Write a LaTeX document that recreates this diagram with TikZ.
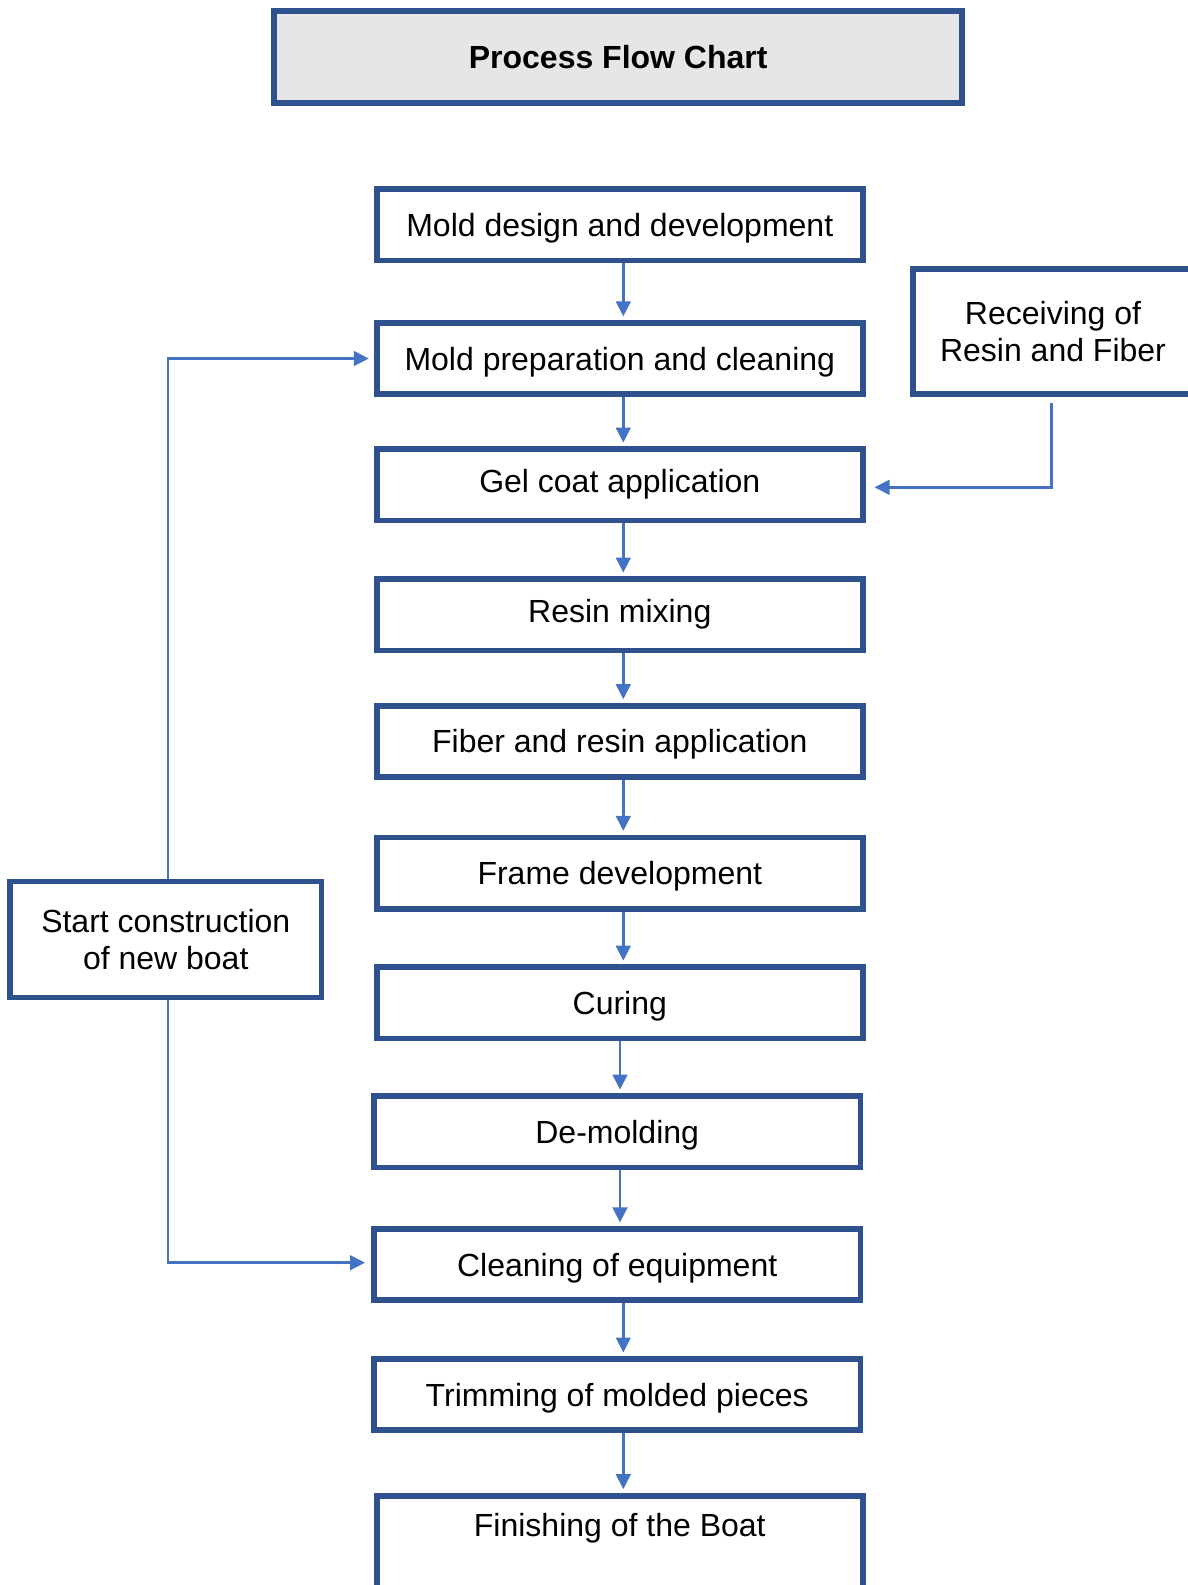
\documentclass[tikz,border=0pt]{standalone}
\usepackage{fontspec}
\setmainfont{Liberation Sans}
\usetikzlibrary{arrows.meta}
\definecolor{boxblue}{HTML}{2F528F}
\definecolor{arrowblue}{HTML}{4472C4}
\definecolor{titlegray}{HTML}{E7E6E6}
\pgfdeclarelayer{bg}
\pgfsetlayers{bg,main}
\tikzset{
  basefont/.style={font=\fontsize{16}{18.4}\selectfont},
  stepbox/.style={basefont, draw=boxblue, line width=2.85pt, fill=white,
    minimum width=243.15pt, minimum height=35.65pt, inner sep=0pt,
    text height=11.5pt, text depth=0pt},
  sidebox/.style={basefont, draw=boxblue, line width=2.85pt, fill=white,
    inner sep=0pt, align=center},
  titlebox/.style={draw=boxblue, line width=3pt, fill=titlegray,
    minimum width=344.15pt, minimum height=45.85pt, inner sep=0pt,
    font=\fontsize{16}{18.4}\selectfont\bfseries, text height=11.5pt, text depth=0pt},
  conn/.style={draw=arrowblue, line width=1.35pt,
    -{Triangle[length=7.5pt,width=7.3pt]}, shorten >=1.8pt},
}
\begin{document}
\begin{tikzpicture}[x=0.5pt,y=-0.5pt]
\useasboundingbox (0,0) rectangle (1188,1585);

\node[titlebox] (title) at (618.2,57.2) {Process Flow Chart};

\node[stepbox] (b1) at (619.8,224.7) {Mold design and development};
\node[stepbox] (b2) at (619.8,358.5) {Mold preparation and cleaning};
\node[stepbox, text depth=4pt] (b3) at (619.8,484.7) {Gel coat application};
\node[stepbox, text depth=4pt] (b4) at (619.8,614.7) {Resin mixing};
\node[stepbox] (b5) at (619.8,741.3) {Fiber and resin application};
\node[stepbox] (b6) at (619.8,873.0) {Frame development};
\node[stepbox] (b7) at (619.8,1002.8) {Curing};
\node[stepbox] (b8) at (617.2,1131.7) {De-molding};
\node[stepbox] (b9) at (617.2,1264.5) {Cleaning of equipment};
\node[stepbox] (b10) at (617.2,1394.6) {Trimming of molded pieces};
\node[stepbox, anchor=north, minimum height=0pt, text height=11.7pt,
      text depth=70pt, inner ysep=8.9pt] (b11) at (619.8,1492.8) {Finishing of the Boat};

\node[sidebox, minimum width=140pt, minimum height=62.5pt] (recv) at (1053,331.5)
  {Receiving of\\Resin and Fiber};
\node[sidebox, minimum width=155.75pt, minimum height=58pt] (start) at (165.75,939.5)
  {Start construction\\of new boat};

\coordinate (axA) at (623.3,0);
\coordinate (axB) at (620,0);
\coordinate (lx) at (168,0);
\coordinate (rx) at (1051.7,0);

\begin{pgfonlayer}{bg}
\draw[conn] (b1.south -| axA) -- (b2.north -| axA);
\draw[conn] (b2.south -| axA) -- (b3.north -| axA);
\draw[conn] (b3.south -| axA) -- (b4.north -| axA);
\draw[conn] (b4.south -| axA) -- (b5.north -| axA);
\draw[conn] (b5.south -| axA) -- (b6.north -| axA);
\draw[conn] (b6.south -| axA) -- (b7.north -| axA);
\draw[conn] (b7.south -| axB) -- (b8.north -| axB);
\draw[conn] (b8.south -| axB) -- (b9.north -| axB);
\draw[conn] (b9.south -| axA) -- (b10.north -| axA);
\draw[conn] (b10.south -| axA) -- (b11.north -| axA);

\draw[conn, shorten >=2.5pt] (start.north -| lx) |- (b2.west);
\draw[conn, shorten >=3.1pt] (start.south -| lx) |- ([yshift=0.9pt]b9.west);
\draw[conn, shorten >=4.35pt] ([yshift=-3pt]recv.south -| rx) |- ([yshift=-1.3pt]b3.east);
\end{pgfonlayer}
\end{tikzpicture}
\end{document}
